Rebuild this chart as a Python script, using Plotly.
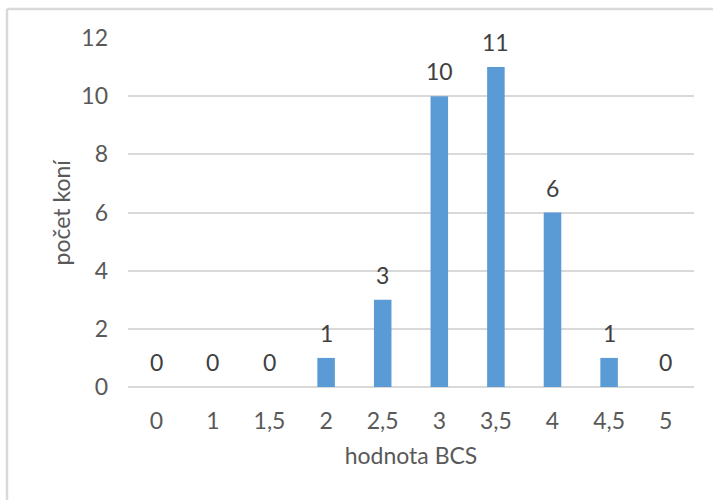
import plotly.graph_objects as go

# BCS score categories (decimal comma) and horse counts
categories = ["0", "1", "1,5", "2", "2,5", "3", "3,5", "4", "4,5", "5"]
counts = [0, 0, 0, 1, 3, 10, 11, 6, 1, 0]
y_ticks = [0, 2, 4, 6, 8, 10, 12]

font_family = "Lato, Open Sans, sans-serif"
gray = "#595959"
grid = "#d9d9d9"
fs = 23

fig = go.Figure(
    go.Bar(
        x=categories,
        y=counts,
        marker=dict(color="#5b9bd5", line=dict(width=0)),
    )
)

# value labels above each bar (category axis positions by index)
for i, val in enumerate(counts):
    fig.add_annotation(
        x=i, y=val, text=str(val), showarrow=False,
        xref="x", yref="y", yanchor="middle", yshift=25,
        font=dict(family=font_family, size=fs, color="#404040"),
    )

# y-axis title
fig.add_annotation(
    x=(60 - 128) / 566, y=0.5, xref="paper", yref="paper",
    text="počet koní", textangle=-90, showarrow=False,
    xanchor="center", yanchor="middle",
    font=dict(family=font_family, size=fs, color=gray),
)

fig.update_layout(
    width=713,
    height=500,
    margin=dict(l=128, r=19, t=38, b=113),
    paper_bgcolor="white",
    plot_bgcolor="white",
    bargap=0.69,
    showlegend=False,
    font=dict(family=font_family, size=fs, color=gray),
    xaxis=dict(
        type="category",
        showgrid=False,
        showline=False,
        ticks="",
        ticklabelstandoff=18,
        tickfont=dict(size=fs, color=gray),
        title=dict(text="hodnota BCS", font=dict(size=fs, color=gray), standoff=14),
    ),
    yaxis=dict(
        range=[0, 12],
        tickvals=y_ticks,
        showgrid=True,
        gridcolor=grid,
        gridwidth=1.5,
        zeroline=True,
        zerolinecolor=grid,
        zerolinewidth=1.5,
        showline=False,
        ticks="",
        ticklabelstandoff=19,
        tickfont=dict(size=fs, color=gray),
    ),
    shapes=[
        # chart frame (top and left edges)
        dict(type="line", xref="paper", yref="paper",
             x0=(7 - 128) / 566, x1=(713 - 128) / 566 + 0.01,
             y0=1 + 29 / 349, y1=1 + 29 / 349,
             line=dict(color=grid, width=2.5)),
        dict(type="line", xref="paper", yref="paper",
             x0=(7 - 128) / 566, x1=(7 - 128) / 566,
             y0=1 + 29 / 349, y1=-113 / 349 - 0.01,
             line=dict(color=grid, width=2.5)),
    ],
)

fig.write_html("out.html")
